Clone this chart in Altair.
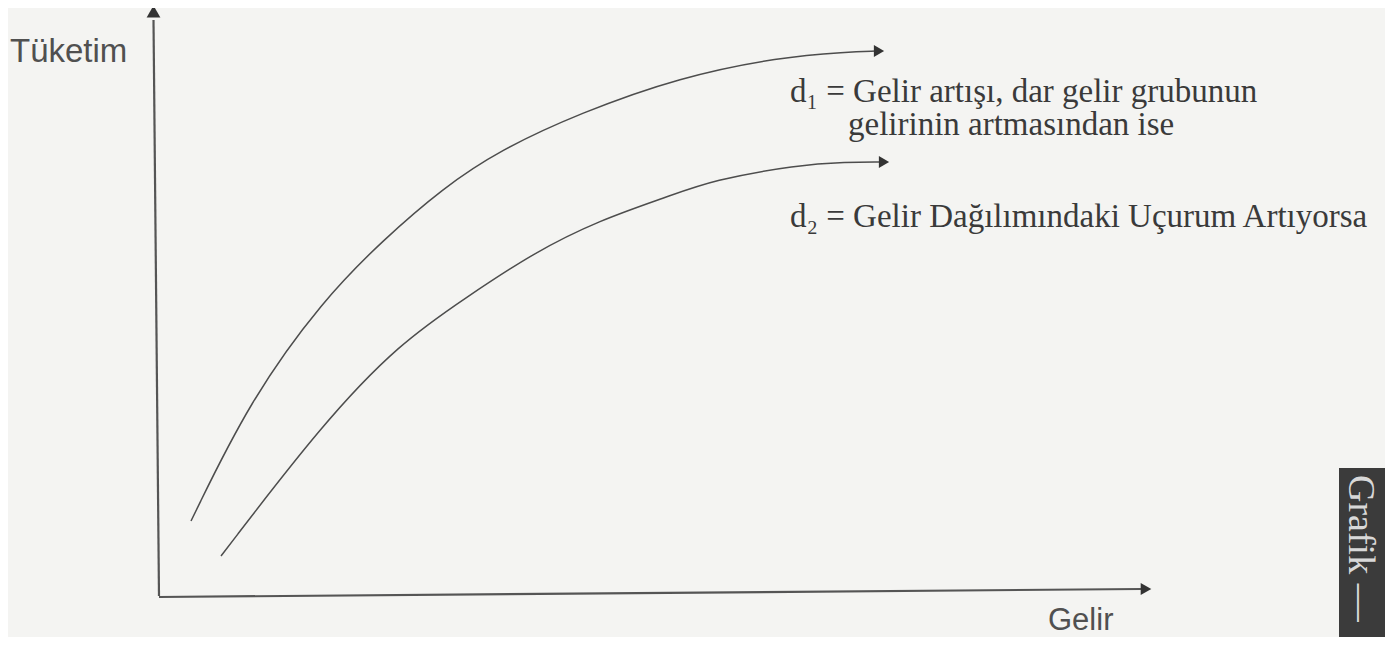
import altair as alt
import pandas as pd

# Curves (Gelir = income, Tüketim = consumption, arbitrary units)
d1_gelir = [3.3, 9.2, 16.5, 22.5, 28.5, 34.2, 42.2, 52.2, 62.2, 68.9, 71.8]
d1_tuketim = [7.5, 19.6, 29.6, 35.6, 40.8, 44.6, 48.3, 51.9, 53.9, 54.4, 54.5]
d2_gelir = [6.3, 16.5, 24.2, 30.9, 37.5, 44.2, 50.9, 55.5, 63.9, 68.9, 72.2]
d2_tuketim = [4.0, 17.3, 25.3, 29.9, 34.3, 37.6, 39.9, 41.6, 43.1, 43.4, 43.4]

# Axis lines (slightly skewed as in the scan)
axis_name = ["y", "y", "x", "x"]
axis_gelir = [0.1, -0.45, 0.1, 98.3]
axis_tuketim = [0.0, 57.6, -0.1, 0.7]

# Arrow heads
head_shape = ["triangle-right", "triangle-right", "triangle-up", "triangle-right"]
head_gelir = [72.1, 72.6, -0.45, 98.8]
head_tuketim = [54.5, 43.4, 58.45, 0.7]
head_size = [140, 140, 190, 150]

# Texts
sans_text = ["Tüketim", "Gelir"]
sans_gelir = [-14.8, 89.0]
sans_tuketim = [53.4, -3.4]
sans_size = [33, 31]

serif_text = ["d\u2081 = Gelir artışı, dar gelir grubunun",
              "gelirinin artmasından ise",
              "d\u2082 = Gelir Dağılımındaki Uçurum Artıyorsa"]
serif_gelir = [63.2, 69.0, 63.2]
serif_tuketim = [49.4, 46.1, 36.9]

side_text = ["Grafik —"]
side_gelir = [119.1]
side_tuketim = [12.1]

box_g = [118.1]
box_g2 = [122.7]
box_t = [12.8]
box_t2 = [-4.1]

curves = pd.DataFrame({
    "seri": ["d1"] * len(d1_gelir) + ["d2"] * len(d2_gelir),
    "Gelir": d1_gelir + d2_gelir,
    "Tüketim": d1_tuketim + d2_tuketim,
    "i": list(range(len(d1_gelir))) + list(range(len(d2_gelir))),
})
axes_df = pd.DataFrame({"eksen": axis_name, "Gelir": axis_gelir, "Tüketim": axis_tuketim})
heads = pd.DataFrame({"shape": head_shape, "Gelir": head_gelir, "Tüketim": head_tuketim, "size": head_size})
sans_df = pd.DataFrame({"t": sans_text, "Gelir": sans_gelir, "Tüketim": sans_tuketim, "fs": sans_size})
serif_df = pd.DataFrame({"t": serif_text, "Gelir": serif_gelir, "Tüketim": serif_tuketim})
side_df = pd.DataFrame({"t": side_text, "Gelir": side_gelir, "Tüketim": side_tuketim})
box_df = pd.DataFrame({"g": box_g, "g2": box_g2, "t": box_t, "t2": box_t2})

xs = alt.Scale(domain=[-15, 122.7], nice=False, zero=False)
ys = alt.Scale(domain=[-4.1, 58.8], nice=False, zero=False)
X = lambda f: alt.X(f, type="quantitative", scale=xs, axis=None)
Y = lambda f: alt.Y(f, type="quantitative", scale=ys, axis=None)

box = alt.Chart(box_df).mark_rect(color="#3b3b3b").encode(
    x=X("g"), x2="g2", y=Y("t"), y2="t2")

curve_layer = alt.Chart(curves).mark_line(
    interpolate="basis", color="#4d4d4d", strokeWidth=1.5
).encode(x=X("Gelir"), y=Y("Tüketim"), detail="seri:N", order="i:Q")

axis_layer = alt.Chart(axes_df).mark_line(color="#555555", strokeWidth=2.2).encode(
    x=X("Gelir"), y=Y("Tüketim"), detail="eksen:N")

head_layer = alt.Chart(heads).mark_point(filled=True, opacity=1, color="#333333").encode(
    x=X("Gelir"), y=Y("Tüketim"),
    shape=alt.Shape("shape:N", scale=None),
    size=alt.Size("size:Q", scale=None))

sans_layer = alt.Chart(sans_df).mark_text(
    align="left", baseline="alphabetic", font="Liberation Sans", color="#505050"
).encode(x=X("Gelir"), y=Y("Tüketim"), text="t:N",
         size=alt.Size("fs:Q", scale=None))

serif_layer = alt.Chart(serif_df).mark_text(
    align="left", baseline="alphabetic", font="Liberation Serif", fontSize=33, color="#3a3a3a"
).encode(x=X("Gelir"), y=Y("Tüketim"), text="t:N")

side_layer = alt.Chart(side_df).mark_text(
    align="left", baseline="alphabetic", font="Liberation Serif", fontSize=38, color="#d8d8d8", angle=90
).encode(x=X("Gelir"), y=Y("Tüketim"), text="t:N")

chart = alt.layer(box, curve_layer, axis_layer, head_layer, sans_layer, serif_layer, side_layer).properties(
    width=1377, height=629, padding=0,
    autosize=alt.AutoSizeParams(type="none"),
    background="#f4f4f2",
).configure_view(stroke=None)

chart.save("out.html", embed_options={"renderer": "svg", "actions": False})
